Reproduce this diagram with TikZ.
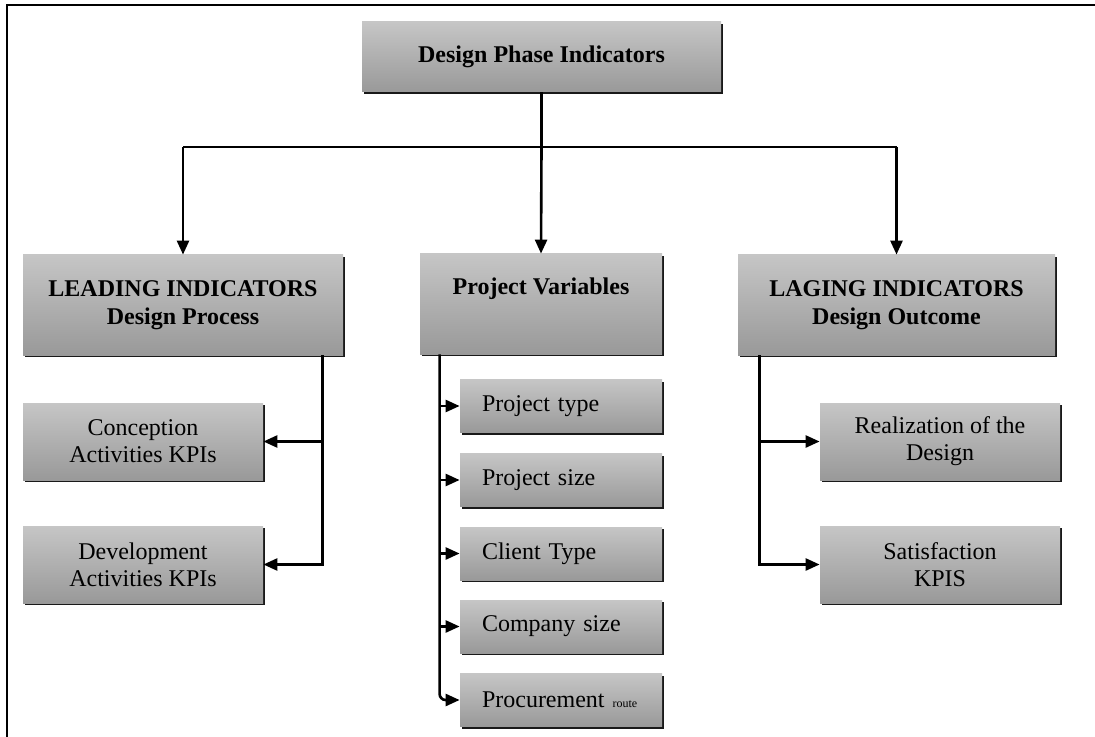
\documentclass[tikz,border=0pt]{standalone}
\usepackage{fontspec}
\setmainfont{Liberation Serif}
\usetikzlibrary{arrows.meta, shadows, positioning}

\begin{document}
\begin{tikzpicture}[x=0.5pt, y=-0.5pt,
  panel/.style={top color=gray!45, bottom color=gray!80, inner sep=0pt, align=center,
    drop shadow={shadow xshift=0.8pt, shadow yshift=-1pt, opacity=0.9, fill=black}},
  headbox/.style={panel, minimum width=179.5pt, minimum height=35pt,
    font=\fontsize{12}{14}\selectfont\bfseries},
  groupbox/.style={panel, minimum height=50pt,
    font=\fontsize{12}{14}\selectfont\bfseries},
  kpibox/.style={panel, minimum width=120pt, minimum height=38.5pt,
    font=\fontsize{12}{13.5}\selectfont},
  varbox/.style={panel, minimum width=101pt, minimum height=26.5pt, inner xsep=11pt,
    text width=79pt, align=left, font=\fontsize{12}{13.5}\selectfont},
  link/.style={line width=1.3pt},
  arrow/.style={link, -{Triangle[length=7pt, width=6pt]}}]
\useasboundingbox (0,0) rectangle (1095,737);

% Rahmen
\draw[line width=1pt] (7,737) -- (7,5) -- (1095,5);

% Kopf
\node[headbox] (top) at (541.5,57) {Design Phase Indicators};

% drei Gruppen
\node[groupbox, minimum width=160pt] (lead) at (183,305) {LEADING INDICATORS\\Design Process};
\node[groupbox, minimum width=121pt] (pvar) at (541,304) {Project Variables\\\strut};
\node[groupbox, minimum width=158.5pt] (lag) at (896.5,305) {LAGING INDICATORS\\Design Outcome};

% KPIs links und rechts
\node[kpibox] (conc) at (143,441.5) {Conception\\Activities KPIs};
\node[kpibox] (dev) at (143,564.5) {Development\\Activities KPIs};
\node[kpibox] (real) at (940,441.5) {Realization of the\\Design};
\node[kpibox] (sat) at (940,564.5) {Satisfaction\\KPIS};

% Projektvariablen
\node[varbox] (ptype) at (561,406) {Project type};
\node[varbox] (psize) at (561,480) {Project size};
\node[varbox] (ctype) at (561,553.5) {Client Type};
\node[varbox] (csize) at (561,626.5) {Company size};
\node[varbox] (proc) at (561,700) {Procurement {\fontsize{6}{7}\selectfont route}};

% Verbindungen oben
\coordinate (hub) at (541.5,147);
\draw[link] (top) -- (hub);
\draw[link] (lead.north |- hub) -- (lag.north |- hub);
\draw[arrow] (lead.north |- hub) -- (lead.north);
\draw[arrow] (hub) -- (pvar.north);
\draw[arrow] (lag.north |- hub) -- (lag.north);

% links
\coordinate (lspine) at ([xshift=-10.5pt]lead.south east);
\draw[arrow] (lspine) |- (dev.east);
\draw[arrow] (lspine |- conc.east) -- (conc.east);

% Mitte
\coordinate (pspine) at ([xshift=10pt]pvar.south west);
\draw[arrow, rounded corners=3pt] (pspine) |- (proc.west);
\draw[arrow] (pspine |- ptype.west) -- (ptype.west);
\draw[arrow] (pspine |- psize.west) -- (psize.west);
\draw[arrow] (pspine |- ctype.west) -- (ctype.west);
\draw[arrow] (pspine |- csize.west) -- (csize.west);

% rechts
\coordinate (gspine) at ([xshift=11pt]lag.south west);
\draw[arrow] (gspine) |- (sat.west);
\draw[arrow] (gspine |- real.west) -- (real.west);
\end{tikzpicture}
\end{document}
